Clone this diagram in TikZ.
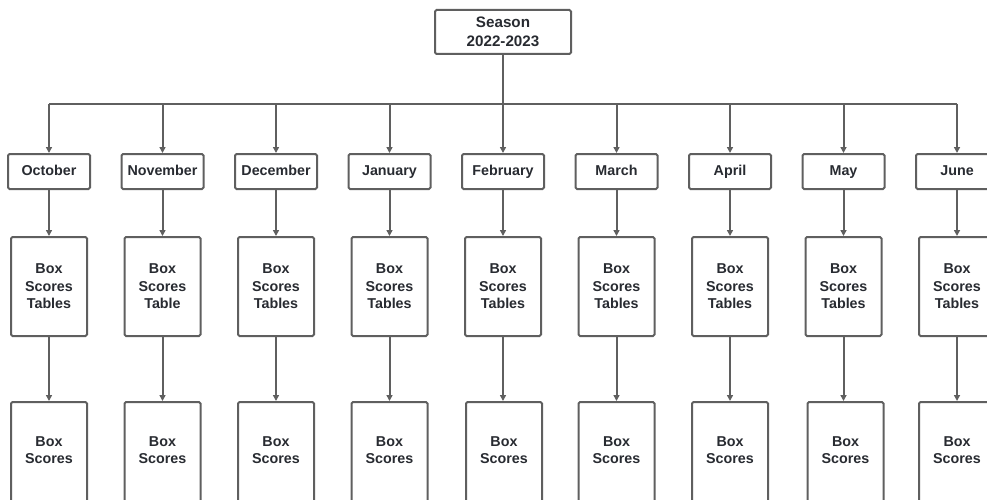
\documentclass[tikz,border=0pt]{standalone}
\usepackage{fontspec}
\setmainfont{Liberation Sans}
\usetikzlibrary{arrows.meta}
\definecolor{edge}{HTML}{5F5F5F}
\definecolor{ink}{HTML}{282B31}
\begin{document}
\begin{tikzpicture}[x=1pt,y=-1pt,
  frame/.style={draw=edge, line width=2pt, rounded corners=1.5pt, fill=white, inner sep=0pt},
  caption/.style={align=center, text=ink, inner sep=0pt, font=\bfseries\fontsize{14.3}{17.5}\selectfont},
  root/.style={frame, caption, minimum width=136pt, minimum height=44pt, font=\bfseries\fontsize{15.2}{19}\selectfont},
  month/.style={frame, caption, minimum width=82pt, minimum height=35pt, text height=10.5pt, text depth=3.5pt},
  tablebox/.style={frame, caption, minimum width=76pt, minimum height=99pt},
  scorebox/.style={frame, minimum width=76pt, minimum height=130pt},
  link/.style={draw=edge, line width=2pt, -{Triangle[length=6pt,width=6pt]}},
  wire/.style={draw=edge, line width=2pt},
  ]
\useasboundingbox (0,0) rectangle (987,500);
\clip (0,0) rectangle (987,500);

% season root and the bus that feeds every month
\node[root] (season) at (503,32) {Season\\2022-2023};
\coordinate (busL) at (49,104);
\coordinate (busR) at (957,104);
\coordinate (busM) at (503,104);
\draw[wire] (busL) -- (busR);
\draw[wire] (season.south) -- (busM);

% one column per month: month, tables, box scores
\foreach \i/\x/\m/\t/\s in {
  1/49/October/Tables/0,
  2/162.5/November/Table/0,
  3/276/December/Tables/0,
  4/389.5/January/Tables/0,
  5/503/February/Tables/1,
  6/616.5/March/Tables/0,
  7/730/April/Tables/0,
  8/843.5/May/Tables/2,
  9/957/June/Tables/0} {
  \coordinate (tap\i) at (\x,104);
  \node[month] (m\i) at (\x,171.5) {\m};
  \node[tablebox] (t\i) at (\x,286.5) {Box\\Scores\\\t};
  \node[scorebox] (b\i) at (\x+\s,467) {};
  \node[caption] (bt\i) at (\x+\s,450) {Box\\Scores};
  \draw[link] (tap\i) -- (m\i.north);
  \draw[link] (m\i.south) -- (t\i.north);
  \draw[link] (t\i.south) -- (t\i.south |- b\i.north);
}
\end{tikzpicture}
\end{document}
